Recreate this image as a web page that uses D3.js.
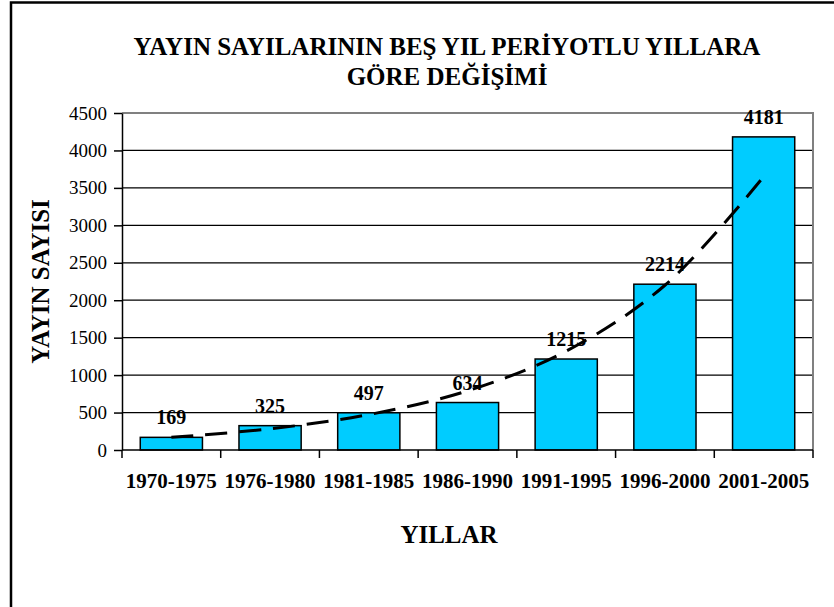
<!DOCTYPE html>
<html>
<head>
<meta charset="utf-8">
<script src="https://cdn.jsdelivr.net/npm/d3@7"></script>
<style>
  body { margin: 0; background: #fff; }
  text { font-family: "Liberation Serif", "Times New Roman", serif; fill: #000; }
</style>
</head>
<body>
<div id="chart"></div>
<script>
// data
var periods = ['1970-1975', '1976-1980', '1981-1985', '1986-1990', '1991-1995', '1996-2000', '2001-2005'];
var counts = [169, 325, 497, 634, 1215, 2214, 4181];
// dashed trend curve, read at each period
var trendValues = [170, 283, 473, 790, 1320, 2200, 3650];
var yTicks = [0, 500, 1000, 1500, 2000, 2500, 3000, 3500, 4000, 4500];
var titleLines = ['YAYIN SAYILARININ BEŞ YIL PERİYOTLU YILLARA', 'GÖRE DEĞİŞİMİ'];

var width = 834, height = 607;
var plot = {left: 122, right: 813, top: 113, bottom: 450};

var svg = d3.select('#chart').append('svg')
  .attr('width', width).attr('height', height);

// chart frame (left + top edges visible)
svg.append('path')
  .attr('d', 'M11,' + height + ' V2.5 H' + width)
  .attr('fill', 'none').attr('stroke', '#000').attr('stroke-width', 2.5);

var x = d3.scaleBand()
  .domain(periods)
  .range([plot.left, plot.right])
  .paddingInner(0.37)
  .paddingOuter(0.185);

var y = d3.scaleLinear()
  .domain([0, 4500])
  .range([plot.bottom, plot.top]);

// gridlines
svg.append('g').selectAll('line')
  .data(yTicks.filter(function(d) { return d > 0 && d < 4500; }))
  .enter().append('line')
  .attr('x1', plot.left).attr('x2', plot.right)
  .attr('y1', function(d) { return y(d); })
  .attr('y2', function(d) { return y(d); })
  .attr('stroke', '#000').attr('stroke-width', 1.3);

// plot area border top/right (grey)
svg.append('path')
  .attr('d', 'M' + plot.left + ',' + y(4500) + ' H' + plot.right + ' V' + plot.bottom)
  .attr('fill', 'none').attr('stroke', '#808080').attr('stroke-width', 2);

// bars
svg.append('g').selectAll('rect')
  .data(counts)
  .enter().append('rect')
  .attr('x', function(d, i) { return x(periods[i]); })
  .attr('y', function(d) { return y(d); })
  .attr('width', x.bandwidth())
  .attr('height', function(d) { return y(0) - y(d); })
  .attr('fill', '#00CCFF')
  .attr('stroke', '#000').attr('stroke-width', 1.5);

// y axis
var yAxis = svg.append('g')
  .attr('transform', 'translate(' + plot.left + ',0)')
  .call(d3.axisLeft(y).tickValues(yTicks).tickFormat(d3.format('d'))
    .tickSize(8).tickPadding(7).tickSizeOuter(0));
yAxis.select('.domain').attr('stroke', '#000').attr('stroke-width', 1.5);
yAxis.selectAll('.tick line').attr('stroke', '#000').attr('stroke-width', 1.5);
yAxis.selectAll('.tick text')
  .style('font-family', '"Liberation Serif", "Times New Roman", serif')
  .style('font-size', '19px').attr('fill', '#000');

// x axis
var boundaries = periods.map(function(p) { return x(p) - x.step() * x.paddingInner() / 2; });
boundaries.push(plot.right);
boundaries[0] = plot.left;
var xAxis = svg.append('g');
xAxis.append('line')
  .attr('x1', plot.left).attr('x2', plot.right)
  .attr('y1', plot.bottom).attr('y2', plot.bottom)
  .attr('stroke', '#000').attr('stroke-width', 1.5);
xAxis.selectAll('.xt')
  .data(boundaries)
  .enter().append('line')
  .attr('x1', function(d) { return d; }).attr('x2', function(d) { return d; })
  .attr('y1', plot.bottom).attr('y2', plot.bottom + 8)
  .attr('stroke', '#000').attr('stroke-width', 1.5);
xAxis.selectAll('text')
  .data(periods)
  .enter().append('text')
  .attr('x', function(d) { return x(d) + x.bandwidth() / 2; })
  .attr('y', 488)
  .attr('text-anchor', 'middle')
  .style('font-size', '21px').style('font-weight', 'bold')
  .text(function(d) { return d; });

// trend line
var trend = d3.line()
  .x(function(d, i) { return x(periods[i]) + x.bandwidth() / 2; })
  .y(function(d) { return y(d); })
  .curve(d3.curveCatmullRom);
svg.append('path')
  .datum(trendValues)
  .attr('d', trend)
  .attr('fill', 'none')
  .attr('stroke', '#000')
  .attr('stroke-width', 3)
  .attr('stroke-dasharray', '22,12');

// value labels
svg.append('g').selectAll('text')
  .data(counts)
  .enter().append('text')
  .attr('x', function(d, i) { return x(periods[i]) + x.bandwidth() / 2; })
  .attr('y', function(d) { return y(d) - 13; })
  .attr('text-anchor', 'middle')
  .style('font-size', '20px').style('font-weight', 'bold')
  .text(function(d) { return d; });

// title
svg.append('g').selectAll('text')
  .data(titleLines)
  .enter().append('text')
  .attr('x', 447)
  .attr('y', function(d, i) { return 55 + i * 30; })
  .attr('text-anchor', 'middle')
  .style('font-size', '25px').style('font-weight', 'bold')
  .text(function(d) { return d; });

// axis titles
svg.append('text')
  .attr('transform', 'translate(49,' + ((plot.top + plot.bottom) / 2) + ') rotate(-90)')
  .attr('text-anchor', 'middle')
  .style('font-size', '25px').style('font-weight', 'bold')
  .text('YAYIN SAYISI');

svg.append('text')
  .attr('x', 449).attr('y', 543)
  .attr('text-anchor', 'middle')
  .style('font-size', '25px').style('font-weight', 'bold')
  .text('YILLAR');
</script>
</body>
</html>
